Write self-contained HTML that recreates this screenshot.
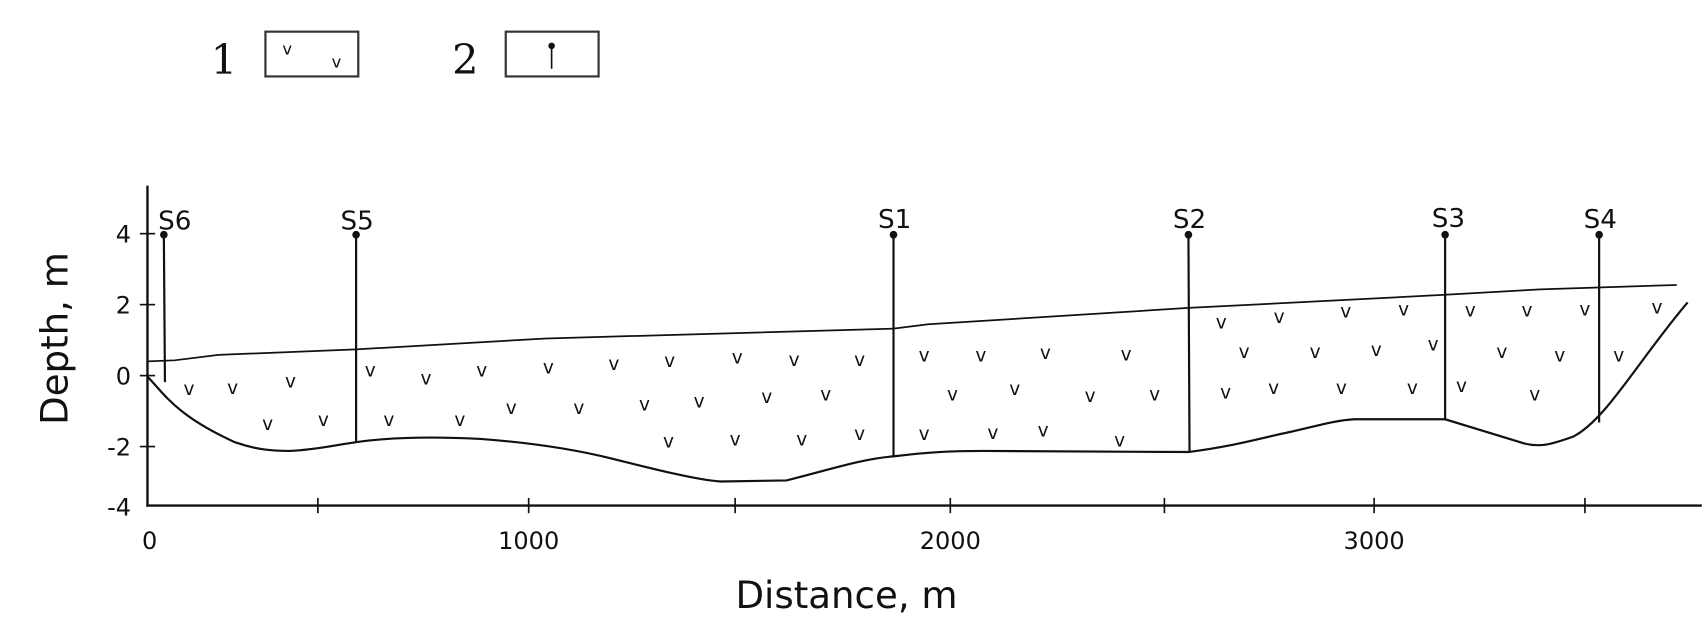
<!DOCTYPE html>
<html><head><meta charset="utf-8"><style>
html,body{margin:0;padding:0;background:#fff}
svg{display:block}
text{font-family:"DejaVu Sans","Liberation Sans",sans-serif;fill:#111}
.v{font-size:17px;text-anchor:middle}
</style></head><body>
<svg width="1704" height="630" viewBox="0 0 1560 577" preserveAspectRatio="none" xmlns="http://www.w3.org/2000/svg">
<!-- legend -->
<text x="205" y="68" style="font-family:'DejaVu Serif','Liberation Serif',serif;font-size:38px" text-anchor="middle">1</text>
<rect x="243" y="29" width="85" height="41" fill="none" stroke="#333" stroke-width="2"/>
<text x="263" y="50" class="v" style="font-size:15px">v</text>
<text x="308" y="62" class="v" style="font-size:15px">v</text>
<text x="426" y="68" style="font-family:'DejaVu Serif','Liberation Serif',serif;font-size:38px" text-anchor="middle">2</text>
<rect x="463" y="29" width="85" height="41" fill="none" stroke="#333" stroke-width="2"/>
<line x1="505" y1="42" x2="505" y2="63" stroke="#111" stroke-width="1.5"/>
<circle cx="505" cy="42" r="3" fill="#111"/>

<!-- axes -->
<line x1="135" y1="170" x2="135" y2="464" stroke="#111" stroke-width="2.2"/>
<line x1="134" y1="463" x2="1558" y2="463" stroke="#111" stroke-width="2.2"/>
<g stroke="#111" stroke-width="1.5">
<line x1="128" y1="214" x2="142" y2="214"/><line x1="128" y1="279" x2="142" y2="279"/>
<line x1="128" y1="344" x2="142" y2="344"/><line x1="128" y1="409" x2="142" y2="409"/>
<line x1="291" y1="456" x2="291" y2="470"/><line x1="484" y1="456" x2="484" y2="470"/>
<line x1="673" y1="456" x2="673" y2="470"/><line x1="870" y1="456" x2="870" y2="470"/>
<line x1="1066" y1="456" x2="1066" y2="470"/><line x1="1258" y1="456" x2="1258" y2="470"/>
<line x1="1451" y1="456" x2="1451" y2="470"/>
</g>
<g style="font-size:22px" text-anchor="end">
<text x="120" y="222">4</text><text x="120" y="287">2</text><text x="120" y="352">0</text>
<text x="120" y="417">-2</text><text x="120" y="472">-4</text>
</g>
<g style="font-size:22px" text-anchor="middle">
<text x="137" y="503">0</text><text x="484" y="503">1000</text><text x="870" y="503">2000</text><text x="1258" y="503">3000</text>
</g>
<text x="775" y="557" text-anchor="middle" style="font-size:34px">Distance, m</text>
<text transform="translate(62,310) rotate(-90)" text-anchor="middle" style="font-size:34px">Depth, m</text>

<!-- surfaces -->
<path d="M135,331 L160,330 L200,325 L326,320 L500,310 L818,301 L850,297 L1088,282 L1323,270 L1410,265 L1535,261" fill="none" stroke="#111" stroke-width="1.6"/>
<path d="M135,345 C150,360 160,380 215,405 C235,412 250,413 265,413 C290,412 310,407 326,405 C360,400 400,400 440,402 C480,405 520,410 560,420 C600,430 640,440 660,441 L720,440 C760,430 790,420 818,418 C850,414 870,413 900,413 L1088,414 C1120,410 1140,405 1170,398 C1200,392 1220,385 1240,384 L1323,384 L1395,406 C1410,410 1420,407 1440,400 C1470,385 1500,330 1545,277" fill="none" stroke="#111" stroke-width="2"/>

<!-- wells -->
<g stroke="#111" stroke-width="2">
<line x1="150" y1="215" x2="151" y2="350"/>
<line x1="326" y1="215" x2="326" y2="405"/>
<line x1="818" y1="215" x2="818" y2="418"/>
<line x1="1088" y1="215" x2="1089" y2="413"/>
<line x1="1323" y1="215" x2="1323" y2="385"/>
<line x1="1464" y1="215" x2="1464" y2="387"/>
</g>
<g fill="#111">
<circle cx="150" cy="215" r="3.5"/><circle cx="326" cy="215" r="3.5"/><circle cx="818" cy="215" r="3.5"/>
<circle cx="1088" cy="215" r="3.5"/><circle cx="1323" cy="215" r="3.5"/><circle cx="1464" cy="215" r="3.5"/>
</g>
<g style="font-size:24px" text-anchor="middle">
<text x="160" y="210">S6</text><text x="327" y="210">S5</text><text x="819" y="209">S1</text>
<text x="1089" y="209">S2</text><text x="1326" y="208">S3</text><text x="1465" y="209">S4</text>
</g>

<!-- v marks -->
<g class="v">
<text x="173" y="362">v</text><text x="213" y="361">v</text><text x="266" y="355">v</text><text x="245" y="394">v</text><text x="296" y="390">v</text>
<text x="339" y="345">v</text><text x="390" y="352">v</text><text x="441" y="345">v</text><text x="502" y="342">v</text><text x="562" y="339">v</text>
<text x="613" y="336">v</text><text x="675" y="333">v</text><text x="727" y="335">v</text><text x="787" y="335">v</text>
<text x="356" y="390">v</text><text x="421" y="390">v</text><text x="468" y="379">v</text><text x="530" y="379">v</text><text x="590" y="376">v</text>
<text x="640" y="373">v</text><text x="702" y="369">v</text><text x="756" y="367">v</text>
<text x="612" y="410">v</text><text x="673" y="408">v</text><text x="734" y="408">v</text><text x="787" y="403">v</text>
<text x="846" y="331">v</text><text x="898" y="331">v</text><text x="957" y="329">v</text><text x="1031" y="330">v</text>
<text x="872" y="367">v</text><text x="929" y="362">v</text><text x="998" y="368">v</text><text x="1057" y="367">v</text>
<text x="846" y="403">v</text><text x="909" y="402">v</text><text x="955" y="400">v</text><text x="1025" y="409">v</text>
<text x="1118" y="301">v</text><text x="1171" y="296">v</text><text x="1232" y="291">v</text><text x="1285" y="289">v</text>
<text x="1139" y="328">v</text><text x="1204" y="328">v</text><text x="1260" y="326">v</text><text x="1312" y="321">v</text>
<text x="1122" y="365">v</text><text x="1166" y="361">v</text><text x="1228" y="361">v</text><text x="1293" y="361">v</text><text x="1338" y="359">v</text>
<text x="1346" y="290">v</text><text x="1398" y="290">v</text><text x="1451" y="289">v</text><text x="1517" y="287">v</text>
<text x="1375" y="328">v</text><text x="1428" y="331">v</text><text x="1482" y="331">v</text><text x="1405" y="367">v</text>
</g>
</svg>
</body></html>
